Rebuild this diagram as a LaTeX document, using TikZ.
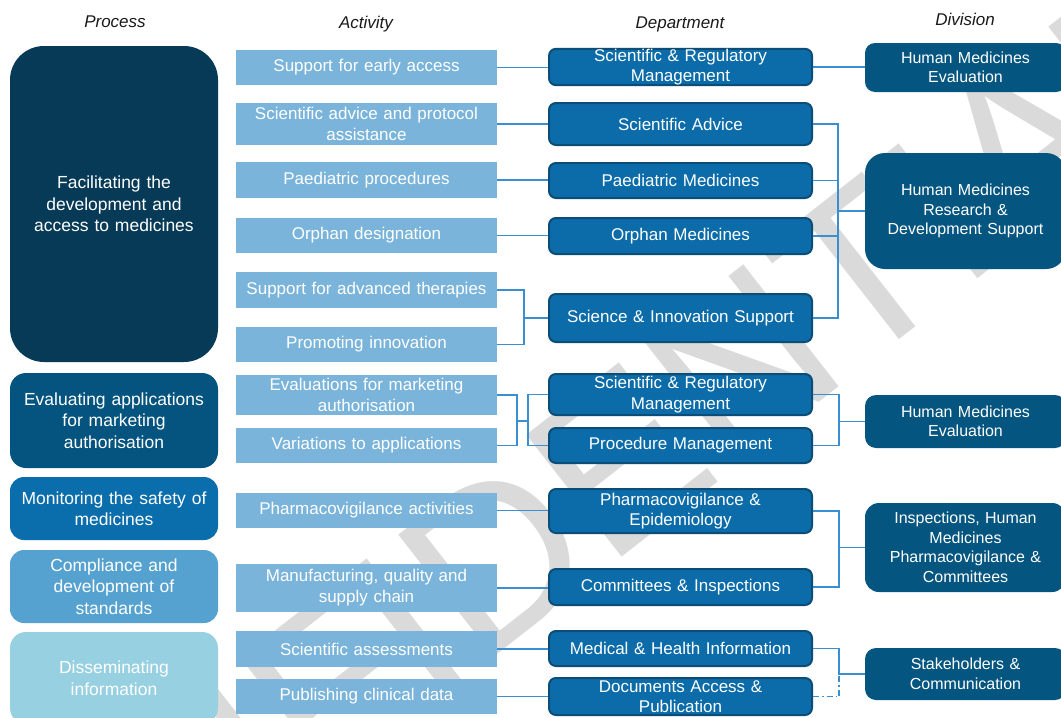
\documentclass[tikz,border=0pt]{standalone}
\usepackage{fontspec}
\setmainfont{Liberation Sans}
\usetikzlibrary{calc}

\definecolor{procA}{HTML}{063A57}
\definecolor{procB}{HTML}{04547F}
\definecolor{procC}{HTML}{0A6DAC}
\definecolor{procD}{HTML}{55A1CF}
\definecolor{procE}{HTML}{97D0E1}
\definecolor{actC}{HTML}{7AB4DA}
\definecolor{deptC}{HTML}{0B6CA9}
\definecolor{deptB}{HTML}{0C4D78}
\definecolor{divC}{HTML}{04557F}
\definecolor{lineC}{HTML}{3A8FD0}
\definecolor{headC}{HTML}{1A1A1A}
\definecolor{wmC}{HTML}{DADADA}

\newcommand\headfont{\fontsize{17}{20}\selectfont\itshape}
\newcommand\procfont{\fontsize{17.5}{21.5}\selectfont}
\newcommand\actfont{\fontsize{17}{21}\selectfont}
\newcommand\deptfont{\fontsize{17}{20.5}\selectfont}
\newcommand\divfont{\fontsize{16}{19.5}\selectfont}
\newcommand\wmfont{\fontsize{225}{225}\selectfont}

\tikzset{
  head/.style={text=headC, font=\headfont, inner sep=0pt},
  proc/.style={text=white, align=center, font=\procfont, inner sep=0pt,
    minimum width=208pt, text width=200pt},
  act/.style={fill=actC, text=white, align=center, font=\actfont, inner sep=0pt,
    minimum width=261pt, text width=250pt},
  dept/.style={fill=deptC, draw=deptB, line width=2pt, rounded corners=7pt,
    text=white, align=center, font=\deptfont, inner sep=0pt,
    minimum width=263pt, text width=255pt},
  divbox/.style={fill=divC, text=white, align=center, font=\divfont, inner sep=0pt,
    minimum width=201pt, text width=195pt},
  conn/.style={draw=lineC, line width=1.4pt},
  connopt/.style={conn, dash pattern=on 6pt off 3pt on 1.5pt off 3pt},
  wm/.style={rotate=38, inner sep=0pt, text=wmC, font=\wmfont},
}

\begin{document}
\begin{tikzpicture}[x=1pt, y=-1pt]
\useasboundingbox (0,0) rectangle (1061,718);
\clip (0,0) rectangle (1061,718);
\fill[white] (0,0) rectangle (1061,718);

% watermark
\node[wm] (wmA) at (530,530) {CONFIDENTIAL};

% column headings
\node[head] (hp) at (115,22) {Process};
\node[head] (ha) at (366,24) {Activity};
\node[head] (hd) at (680,24) {Department};
\node[head] (hv) at (965,19) {Division};

% processes
\node[proc, fill=procA, rounded corners=34pt, minimum height=316pt] (p1) at (114,204)
  {Facilitating the\\development and\\access to medicines};
\node[proc, fill=procB, rounded corners=16pt, minimum height=95pt] (p2) at (114,420.5)
  {Evaluating applications\\for marketing\\authorisation};
\node[proc, fill=procC, rounded corners=14pt, minimum height=63pt] (p3) at (114,508.5)
  {Monitoring the safety of\\medicines};
\node[proc, fill=procD, rounded corners=14pt, minimum height=73pt] (p4) at (114,586.5)
  {Compliance and\\development of\\standards};
\node[proc, fill=procE, rounded corners=16pt, minimum height=92pt] (p5) at (114,678)
  {Disseminating\\information};

% activities
\node[act, minimum height=35pt] (a1) at (366.5,67.5) {Support for early access};
\node[act, minimum height=42pt] (a2) at (366.5,124) {Scientific advice and protocol\\assistance};
\node[act, minimum height=36pt] (a3) at (366.5,180) {Paediatric procedures};
\node[act, minimum height=35pt] (a4) at (366.5,235.5) {Orphan designation};
\node[act, minimum height=36pt] (a5) at (366.5,290) {Support for advanced therapies};
\node[act, minimum height=35pt] (a6) at (366.5,344.5) {Promoting innovation};
\node[act, minimum height=40pt] (a7) at (366.5,395) {Evaluations for marketing\\authorisation};
\node[act, minimum height=35pt] (a8) at (366.5,445.5) {Variations to applications};
\node[act, minimum height=35pt] (a9) at (366.5,510.5) {Pharmacovigilance activities};
\node[act, minimum height=48pt] (a10) at (366.5,588) {Manufacturing, quality and\\supply chain};
\node[act, minimum height=36pt] (a11) at (366.5,649) {Scientific assessments};
\node[act, minimum height=35pt] (a12) at (366.5,696.5) {Publishing clinical data};

% departments
\node[dept, minimum height=36pt] (d1) at (680.5,67) {Scientific \& Regulatory\\Management};
\node[dept, minimum height=42pt] (d2) at (680.5,124) {Scientific Advice};
\node[dept, minimum height=35pt] (d3) at (680.5,180.5) {Paediatric Medicines};
\node[dept, minimum height=36pt] (d4) at (680.5,236) {Orphan Medicines};
\node[dept, minimum height=48pt] (d5) at (680.5,318) {Science \& Innovation Support};
\node[dept, minimum height=41pt] (d6) at (680.5,394.5) {Scientific \& Regulatory\\Management};
\node[dept, minimum height=35pt] (d7) at (680.5,445.5) {Procedure Management};
\node[dept, minimum height=44pt] (d8) at (680.5,511) {Pharmacovigilance \&\\Epidemiology};
\node[dept, minimum height=36pt] (d9) at (680.5,587) {Committees \& Inspections};
\node[dept, minimum height=35pt] (d10) at (680.5,648.5) {Medical \& Health Information};
\node[dept, minimum height=37pt] (d11) at (680.5,696.5) {Documents Access \&\\Publication};

% divisions
\node[divbox, rounded corners=10pt, minimum height=49pt] (v1) at (965.5,67.5)
  {Human Medicines\\Evaluation};
\node[divbox, rounded corners=20pt, minimum height=116pt] (v2) at (965.5,211)
  {Human Medicines\\Research \&\\Development Support};
\node[divbox, rounded corners=11pt, minimum height=53pt] (v3) at (965.5,421.5)
  {Human Medicines\\Evaluation};
\node[divbox, rounded corners=14pt, minimum height=89pt] (v4) at (965.5,547.5)
  {Inspections, Human\\Medicines\\Pharmacovigilance \&\\Committees};
\node[divbox, rounded corners=11pt, minimum height=52pt] (v5) at (965.5,674)
  {Stakeholders \&\\Communication};

% junction points
\coordinate (j1) at (524,318);
\coordinate (j2) at (838,211);
\coordinate (j3) at (517,421);
\coordinate (j4) at (528,421);
\coordinate (j5) at (839,421.5);
\coordinate (j6) at (839,547.5);
\coordinate (j7) at (839,674);

% activity -> department
\draw[conn] (a1.east) -- (a1.east -| d1.west);
\draw[conn] (a2.east) -- (d2.west);
\draw[conn] (a3.east) -- (a3.east -| d3.west);
\draw[conn] (a4.east) -- (a4.east -| d4.west);
\draw[conn] (a5.east) -| (j1) |- (a6.east);
\draw[conn] (j1) -- (d5.west);
\draw[conn] (a7.east) -| (j3) |- (a8.east);
\draw[conn] (j3) -- (j4);
\draw[conn] (d6.west) -| (j4) |- (d7.west);
\draw[conn] (a9.east) -- (a9.east -| d8.west);
\draw[conn] (a10.east) -- (a10.east -| d9.west);
\draw[conn] (a11.east) -- (a11.east -| d10.west);
\draw[conn] (a12.east) -- (d11.west);

% department -> division
\draw[conn] (d1.east) -- (d1.east -| v1.west);
\draw[conn] (d2.east) -| (j2) |- (d5.east);
\draw[conn] (d3.east) -- (d3.east -| j2);
\draw[conn] (d4.east) -- (d4.east -| j2);
\draw[conn] (j2) -- (v2.west);
\draw[conn] (d6.east) -| (j5) |- (d7.east);
\draw[conn] (j5) -- (v3.west);
\draw[conn] (d8.east) -| (j6) |- (d9.east);
\draw[conn] (j6) -- (v4.west);
\draw[conn] (d10.east) -| (j7) -- (v5.west);
\draw[connopt] (d11.east) -| (j7);
\end{tikzpicture}
\end{document}
